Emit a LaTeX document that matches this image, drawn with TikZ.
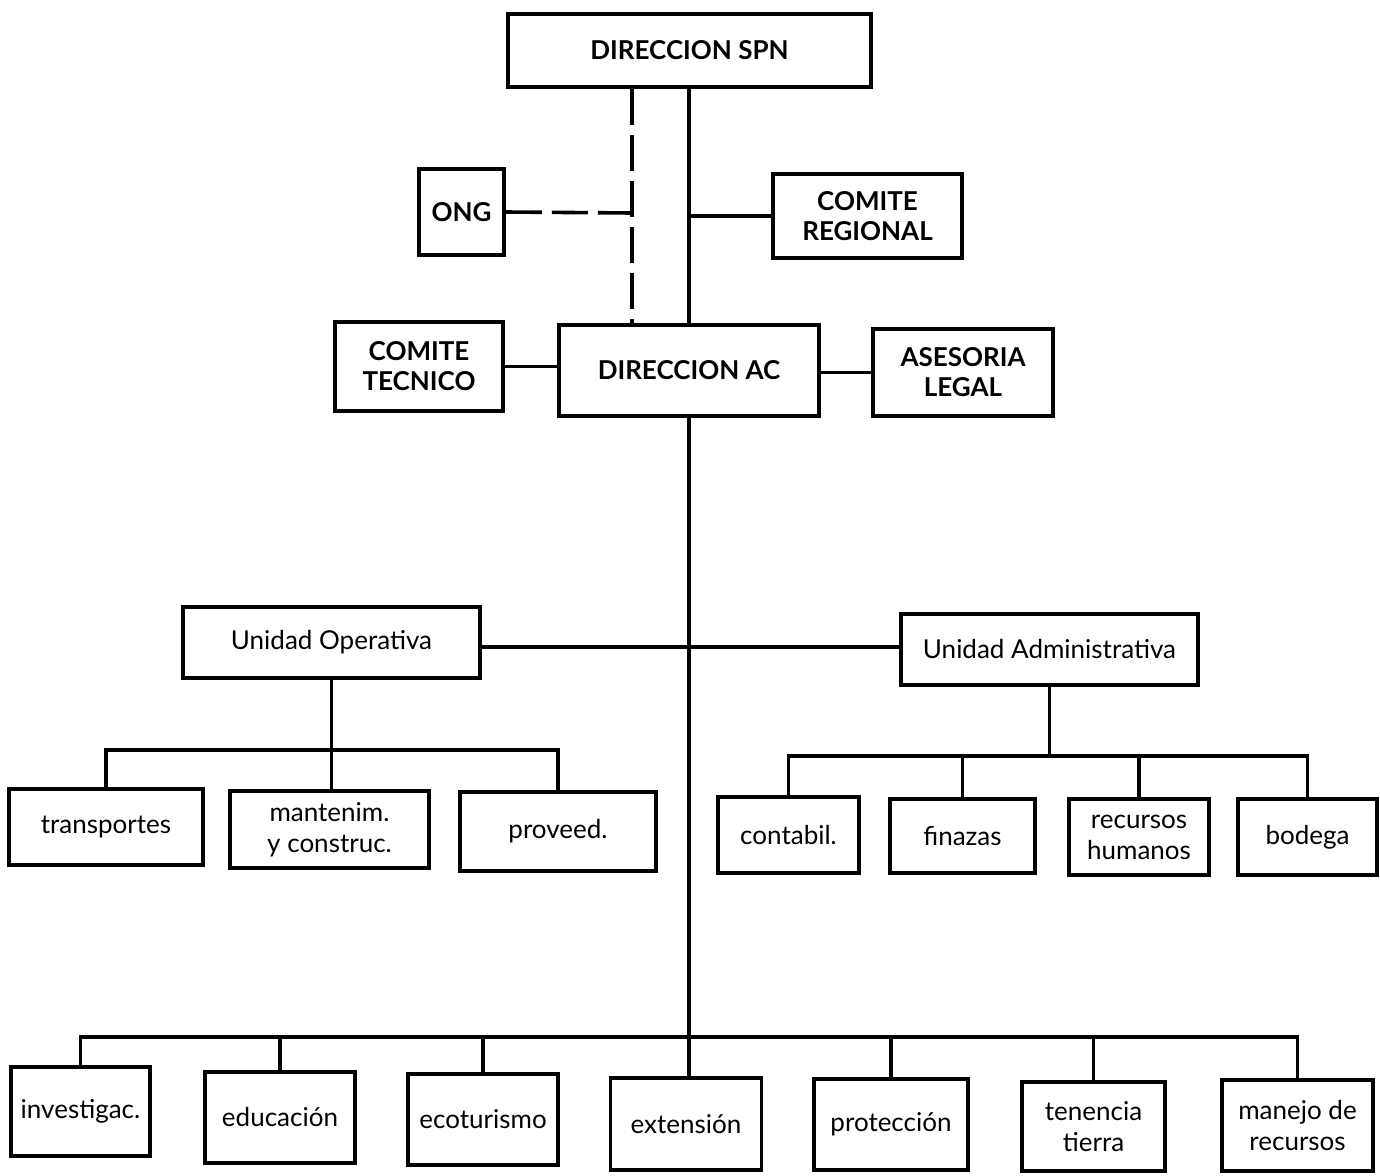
\documentclass[tikz,border=0pt]{standalone}
\usepackage{fontspec}
\setmainfont{Lato}
\usepackage{tikz}
\tikzset{
    every node/.style = {font=\fontsize{26}{31}\selectfont, align=center, inner sep=0pt},
    unit/.style 2 args = {draw, line width=3.6pt, minimum width=#1pt, minimum height=#2pt},
    head/.style = {font=\fontsize{26}{30}\selectfont\bfseries},
    link/.style = {line width=3.6pt, line join=miter},
    dashlink/.style = {line width=3.6pt, dash pattern=on 36pt off 10pt}
}

\begin{document}
\begin{tikzpicture}[x=1pt, y=-1pt]
    \useasboundingbox (0,0) rectangle (1380,1175);

    \node[unit={363}{73}, head] (spn) at (689.5,50.5) {DIRECCION SPN};
    \node[unit={85}{86}, head] (ong) at (461.5,212) {ONG};
    \node[unit={189}{84}, head] (regional) at (867.5,216) {COMITE\\REGIONAL};
    \node[unit={168}{89}, head] (tecnico) at (419,366.5) {COMITE\\TECNICO};
    \node[unit={260}{91}, head] (ac) at (689,370.5) {DIRECCION AC};
    \node[unit={180}{87}, head] (legal) at (963,372.5) {ASESORIA\\LEGAL};

    \node[unit={297}{71}] (operativa) at (331.5,642.5) {Unidad Operativa};
    \node[unit={297}{71}] (administrativa) at (1049.5,649.5) {Unidad Administrativa};

    \node[unit={194}{76}] (transportes) at (106,827) {transportes};
    \node[unit={199}{77}] (mantenim) at (329.5,829.5) {mantenim.\\y construc.};
    \node[unit={196}{79}] (proveed) at (558,831.5) {proveed.};

    \node[unit={141}{76}] (contabil) at (788.5,835) {contabil.};
    \node[unit={145}{74}] (finazas) at (962.5,836) {finazas};
    \node[unit={140}{76}] (humanos) at (1139,837) {recursos\\humanos};
    \node[unit={139}{76}] (bodega) at (1307.5,837) {bodega};

    \node[unit={139}{89}] (investigac) at (80.5,1111.5) {investigac.};
    \node[unit={150}{91}] (educacion) at (280,1117.5) {educación};
    \node[unit={150}{91}] (ecoturismo) at (483,1119.5) {ecoturismo};
    \node[unit={151}{92}] (extension) at (686,1124) {extensión};
    \node[unit={154}{91}] (proteccion) at (891,1124.5) {protección};
    \node[unit={143}{89}] (tenencia) at (1093.5,1126.5) {tenencia\\tierra};
    \node[unit={151}{91}] (manejo) at (1297.5,1125.5) {manejo de\\recursos};

    \coordinate (ongjoin) at (632,213);
    \coordinate (unitjoin) at (0,647);
    \coordinate (opbar) at (0,750);
    \coordinate (adbar) at (0,756);
    \coordinate (acbar) at (0,1037);

    \draw[link] (spn.south -| ac.north) -- (ac.north);
    \draw[dashlink] (spn.south -| ongjoin) -- (ac.north -| ongjoin);
    \draw[dashlink] (ong.east) -- (ongjoin);
    \draw[link] (regional.west) -- (regional.west -| ac.north);
    \draw[link] (tecnico.east) -- (tecnico.east -| ac.west);
    \draw[link] (legal.west) -- (legal.west -| ac.east);

    \draw[link] (ac.south) -- (ac.south |- extension.north);
    \draw[link] (operativa.east |- unitjoin) -- (administrativa.west |- unitjoin);

    \draw[link] (transportes.north) |- (operativa.south |- opbar) -| (proveed.north);
    \draw[link] (operativa.south) -- (operativa.south |- mantenim.north);

    \draw[link] (contabil.north) |- (administrativa.south |- adbar) -| (bodega.north);
    \draw[link] (administrativa.south) -- (administrativa.south |- adbar);
    \foreach \n in {finazas, humanos}
        \draw[link] (\n.north) -- (\n.north |- adbar);

    \draw[link] (investigac.north) |- (extension.north |- acbar) -| (manejo.north);
    \foreach \n in {educacion, ecoturismo, proteccion, tenencia}
        \draw[link] (\n.north) -- (\n.north |- acbar);
\end{tikzpicture}
\end{document}
